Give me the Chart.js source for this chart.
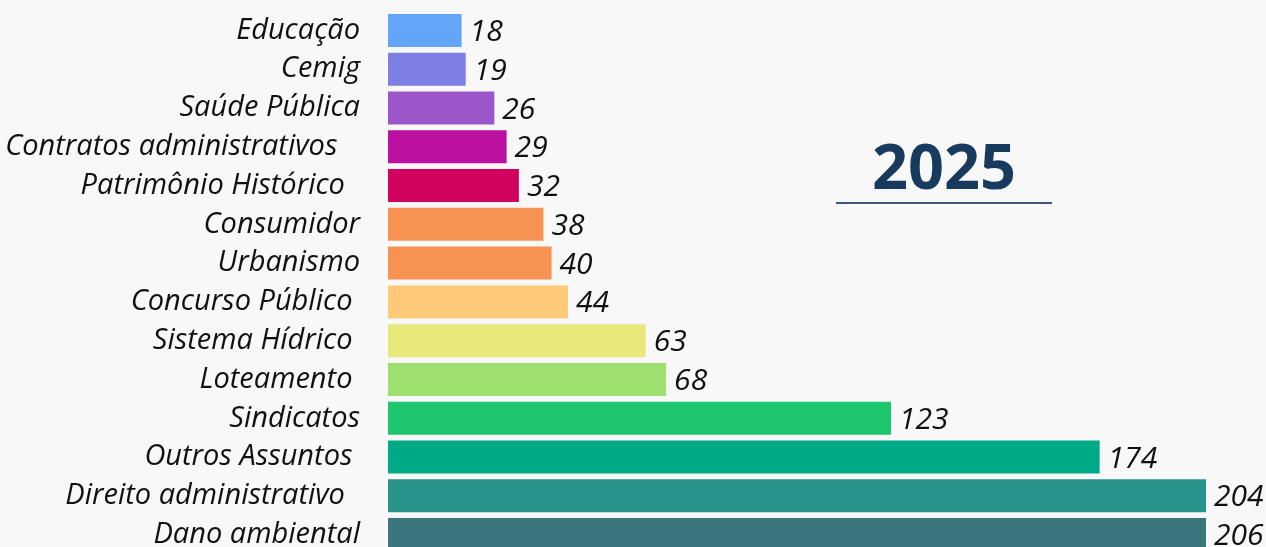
<!DOCTYPE html>
<html>
<head>
<meta charset="utf-8">
<script src="https://cdn.jsdelivr.net/npm/chart.js@4"></script>
<style>
  html, body { margin: 0; padding: 0; background: #f8f8f8; overflow: hidden; }
  #wrap { position: relative; width: 1266px; height: 560px; }
  #title {
    position: absolute; left: 836px; top: 128px; width: 216px;
    text-align: center; font: bold 63px "Open Sans", sans-serif; color: #173a5e;
    line-height: 74px; border-bottom: 2px solid #3d5a7c;
  }
</style>
</head>
<body>
<div id="wrap">
  <canvas id="chart" width="1266" height="560"></canvas>
  <div id="title">2025</div>
</div>
<script>
// Assuntos e quantidades (2025)
const categories = [
    'Educação', 'Cemig', 'Saúde Pública', 'Contratos administrativos   ',
    'Patrimônio Histórico  ', 'Consumidor', 'Urbanismo', 'Concurso Público ',
    'Sistema Hídrico ', 'Loteamento ', 'Sindicatos', 'Outros Assuntos ',
    'Direito administrativo  ', 'Dano ambiental'
];
const values = [18, 19, 26, 29, 32, 38, 40, 44, 63, 68, 123, 174, 204, 206];
const barColors = [
    '#62a5f9', '#7d7fe4', '#9b57c9', '#bb10a0', '#d0025b', '#f79352', '#f79352',
    '#ffc977', '#e7e87a', '#9ee070', '#1dc66e', '#00aa86', '#27938b', '#3a767c'
];

// draw value next to the end of each bar (bars past the axis max get clipped)
const valueLabels = {
    id: 'valueLabels',
    afterDatasetsDraw(chart) {
        const ctx = chart.ctx;
        const meta = chart.getDatasetMeta(0);
        ctx.save();
        ctx.font = 'italic 30px "Open Sans"';
        ctx.fillStyle = '#111';
        ctx.textAlign = 'left';
        ctx.textBaseline = 'middle';
        meta.data.forEach(function(bar, i) {
            const x = Math.min(bar.x, chart.chartArea.right) + 8;
            ctx.fillText(values[i], x, bar.y + 2);
        });
        ctx.restore();
    }
};

const ctx = document.getElementById('chart').getContext('2d');
new Chart(ctx, {
    type: 'bar',
    data: {
        labels: categories,
        datasets: [{
            data: values,
            backgroundColor: barColors,
            borderWidth: 0,
            barPercentage: 0.85,
            categoryPercentage: 1.0
        }]
    },
    options: {
        indexAxis: 'y',
        responsive: false,
        animation: false,
        layout: { padding: { top: 11, bottom: 6, left: 0, right: 60 } },
        plugins: {
            legend: { display: false },
            tooltip: { enabled: false }
        },
        scales: {
            x: {
                display: false,
                min: 0,
                max: 200
            },
            y: {
                grid: { display: false },
                border: { display: false },
                afterFit: function(scale) {
                    scale.width = 388;
                    scale.paddingTop = 0;
                    scale.paddingBottom = 0;
                },
                ticks: {
                    padding: 20,
                    color: '#111',
                    font: { family: 'Open Sans', size: 29, style: 'italic' }
                }
            }
        }
    },
    plugins: [valueLabels]
});
</script>
</body>
</html>
